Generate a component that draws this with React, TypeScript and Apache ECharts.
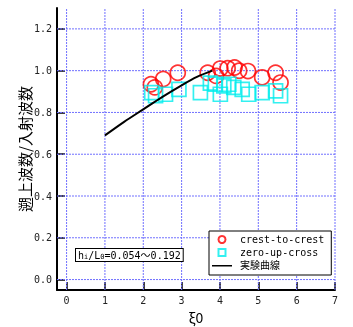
import React, { useEffect, useRef } from "react";
import * as echarts from "echarts";

const xTicks = [0, 1, 2, 3, 4, 5, 6, 7];
const yTicks = [0, 0.2, 0.4, 0.6, 0.8, 1.0, 1.2];
const xRange = [-0.25, 7];
const yRange = [-0.05, 1.3];

const crestX = [2.2, 2.3, 2.52, 2.9, 3.68, 3.9, 4.01, 4.2, 4.38, 4.5, 4.73, 5.1, 5.45, 5.58];
const crestY = [0.935, 0.92, 0.96, 0.99, 0.99, 0.975, 1.01, 1.012, 1.015, 1.0, 0.998, 0.968, 0.99, 0.943];

const zeroX = [2.22, 2.32, 2.58, 2.93, 3.49, 3.75, 3.88, 4.01, 4.1, 4.23, 4.36, 4.58, 4.75, 5.1, 5.45, 5.58];
const zeroY = [0.895, 0.88, 0.887, 0.91, 0.895, 0.94, 0.935, 0.887, 0.927, 0.935, 0.92, 0.91, 0.887, 0.895, 0.903, 0.88];

const curveX = [1.0, 1.5, 2.0, 2.5, 3.0, 3.4, 3.8];
const curveY = [0.69, 0.755, 0.815, 0.875, 0.93, 0.97, 1.0];

const seriesNames = ["crest-to-crest", "zero-up-cross", "実験曲線"];
const yAxisTitle = "遡上波数/入射波数";
const xAxisTitle = "ξ0";

const MONO = "'DejaVu Sans Mono', 'Noto Sans CJK JP', monospace";
const GRID_COLOR = "#7070ff";

export default function App() {
  const ref = useRef<HTMLDivElement>(null);
  useEffect(() => {
    if (!ref.current) return;
    const chart = echarts.init(ref.current, null, { renderer: "svg" });
    const zip = (xs: number[], ys: number[]) => xs.map((x, i) => [x, ys[i]]);
    const gridLines = [
      ...xTicks.map((v) => [[v, yRange[0]], [v, yRange[1]]]),
      ...yTicks.map((v) => [[xRange[0], v], [xRange[1], v]]),
    ];
    const gridSeries = gridLines.map((d, i) => ({
      type: "line",
      name: "grid" + i,
      data: d,
      silent: true,
      symbol: "none",
      z: 1,
      lineStyle: { color: GRID_COLOR, type: [2, 1], width: 1 },
    }));
    chart.setOption({
      animation: false,
      grid: { left: 57, right: 18, top: 8, bottom: 37, outerBoundsMode: "none" },
      xAxis: {
        type: "value",
        min: xRange[0],
        max: xRange[1],
        name: xAxisTitle,
        nameLocation: "middle",
        nameGap: 20,
        nameMoveOverlap: false,
        nameTextStyle: { fontSize: 14, color: "#000", fontFamily: "'Noto Sans CJK JP'" },
        axisLine: { onZero: false, lineStyle: { color: "#000", width: 2 } },
        axisTick: { inside: true, length: 8, customValues: xTicks, lineStyle: { color: "#000", width: 1.5 } },
        axisLabel: { customValues: xTicks, margin: 5, fontSize: 10, color: "#222", fontFamily: MONO },
        splitLine: { show: false },
      },
      yAxis: {
        type: "value",
        min: yRange[0],
        max: yRange[1],
        name: yAxisTitle,
        nameLocation: "middle",
        nameGap: 25,
        nameMoveOverlap: false,
        nameTextStyle: { fontSize: 15, color: "#000", fontFamily: "'Noto Sans CJK JP'" },
        axisLine: { onZero: false, lineStyle: { color: "#000", width: 2 } },
        axisTick: { inside: true, length: 8, customValues: yTicks, lineStyle: { color: "#000", width: 1.5 } },
        axisLabel: {
          customValues: yTicks,
          margin: 5,
          fontSize: 10,
          color: "#222",
          fontFamily: MONO,
          formatter: (v: number) => v.toFixed(1),
        },
        splitLine: { show: false },
      },
      legend: {
        orient: "vertical",
        left: 209,
        top: 231,
        padding: [3, 7, 4, 3],
        itemGap: 2,
        itemWidth: 20,
        itemHeight: 7,
        backgroundColor: "#fff",
        borderColor: "#000",
        borderWidth: 1,
        textStyle: { fontSize: 10, lineHeight: 11, color: "#000", fontFamily: MONO, padding: [0, 0, 0, 3] },
        data: [
          {
            name: seriesNames[0],
            icon: "circle",
            itemStyle: { color: "#fff", borderColor: "#ff0000", borderWidth: 2 },
          },
          {
            name: seriesNames[1],
            icon: "path://M0,0H10V10H0Z",
            symbolKeepAspect: true,
            itemStyle: { color: "#fff", borderColor: "#00ecec", borderWidth: 2 },
          },
          {
            name: seriesNames[2],
            icon: "path://M0,0L20,0M0,3L20,3L20,4.5L0,4.5ZM0,7L20,7",
            symbolKeepAspect: false,
            itemStyle: { color: "#000", borderWidth: 0 },
          },
        ],
      },
      graphic: [
        {
          type: "text",
          left: 75,
          top: 248,
          z: 10,
          style: {
            text: "h{s|i}/L{s|0}=0.054～0.192",
            fontSize: 10,
            fontFamily: MONO,
            fill: "#000",
            backgroundColor: "#fff",
            borderColor: "#000",
            borderWidth: 1,
            padding: [1, 2, 0, 2],
            rich: { s: { fontSize: 7, fontFamily: MONO, verticalAlign: "bottom", padding: [4, 0, 0, 0] } },
          },
        },
      ],
      series: [
        ...gridSeries,
        {
          type: "scatter",
          name: seriesNames[0],
          data: zip(crestX, crestY),
          symbol: "circle",
          symbolSize: 15,
          z: 3,
          itemStyle: { color: "rgba(0,0,0,0)", borderColor: "#ff0000", borderWidth: 1.7 },
        },
        {
          type: "scatter",
          name: seriesNames[1],
          data: zip(zeroX, zeroY),
          symbol: "rect",
          symbolSize: 14,
          z: 4,
          itemStyle: { color: "rgba(0,0,0,0)", borderColor: "#00ecec", borderWidth: 1.7 },
        },
        {
          type: "line",
          name: seriesNames[2],
          data: zip(curveX, curveY),
          smooth: 0.3,
          showSymbol: false,
          symbol: "none",
          z: 5,
          lineStyle: { color: "#000", width: 2 },
          itemStyle: { color: "#000" },
        },
      ],
    });
    return () => chart.dispose();
  }, []);
  return <div ref={ref} style={{ position: "fixed", left: 0, top: 0, width: 353, height: 327 }} />;
}
